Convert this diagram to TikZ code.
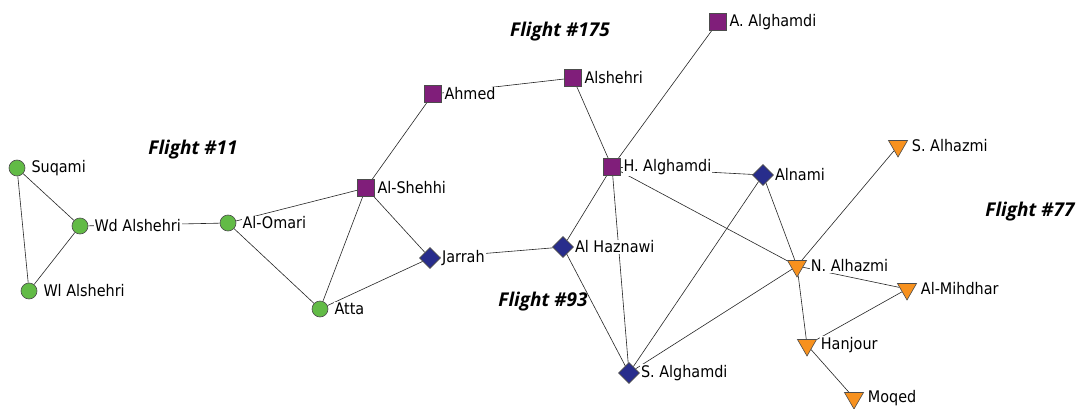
\documentclass[tikz,border=0pt]{standalone}
\usepackage{fontspec}
\setmainfont{DejaVu Sans}[FakeStretch=0.9]
\newfontfamily\flightfont{Open Sans}
\usetikzlibrary{shapes.geometric,backgrounds}
\definecolor{cgreen}{RGB}{98,187,70}
\definecolor{cpurple}{RGB}{128,30,122}
\definecolor{cnavy}{RGB}{40,45,140}
\definecolor{corange}{RGB}{247,145,30}
\begin{document}
\begin{tikzpicture}[x=1pt,y=-1pt,
 base/.style={draw=black!70,line width=0.6pt,inner sep=0pt},
 circ/.style={base,circle,fill=cgreen,minimum size=16pt},
 sq/.style={base,rectangle,fill=cpurple,minimum size=17pt},
 dia/.style={base,diamond,fill=cnavy,minimum size=21pt},
 tri/.style={base,regular polygon,regular polygon sides=3,shape border rotate=180,fill=corange,minimum size=22pt},
 lab/.style={fill=white,inner sep=1pt,font=\fontsize{16}{16}\selectfont},
 cl/.style={lab,xshift=5pt},
 sl/.style={lab,xshift=1.5pt},
 dl/.style={lab},
 tl/.style={lab,xshift=6pt},
 edge/.style={draw=black!85,line width=0.6pt},
 flight/.style={font=\flightfont\bfseries\itshape\fontsize{19}{19}\selectfont}
]
\useasboundingbox (0,0) rectangle (1083,409);
% Flight #11
\node[circ,label={[cl]0:Suqami}] (suqami) at (17,168) {};
\node[circ,label={[cl]0:Wd Alshehri}] (wd) at (80,226) {};
\node[circ,label={[cl]0:Wl Alshehri}] (wl) at (29,291) {};
\node[circ,label={[cl]0:Al-Omari}] (omari) at (228,223) {};
\node[circ,label={[cl]0:Atta}] (atta) at (320,309) {};
\node[sq,label={[sl]0:Al-Shehhi}] (shehhi) at (366,188) {};
% Flight #175
\node[sq,label={[sl]0:Ahmed}] (ahmed) at (433,94) {};
\node[sq,label={[sl]0:Alshehri}] (alshehri) at (573,78) {};
\node[sq,label={[sl]0:A. Alghamdi}] (aalg) at (718,22) {};
\node[sq,label={[sl]0:H. Alghamdi}] (halg) at (612,167) {};
% Flight #93
\node[dia,label={[dl]0:Jarrah}] (jarrah) at (430,258) {};
\node[dia,label={[dl]0:Al Haznawi}] (haznawi) at (563,247) {};
\node[dia,label={[dl]0:Alnami}] (alnami) at (763,175) {};
\node[dia,label={[dl]0:S. Alghamdi}] (salg) at (629,373) {};
% Flight #77
\node[tri,label={[tl]0:S. Alhazmi}] (salh) at (898,146) {};
\node[tri,label={[tl]0:N. Alhazmi}] (nalh) at (797,266) {};
\node[tri,label={[tl]0:Al-Mihdhar}] (mihdhar) at (907,289) {};
\node[tri,label={[tl]0:Hanjour}] (hanjour) at (807,345) {};
\node[tri,label={[tl]0:Moqed}] (moqed) at (854,398) {};
% flight labels
\node[flight] (f11) at (193,150) {Flight \#11};
\node[flight] (f175) at (560,32) {Flight \#175};
\node[flight] (f93) at (543,302) {Flight \#93};
\node[flight] (f77) at (1030,212) {Flight \#77};
\begin{pgfonlayer}{background}
\fill[white] (0,0) rectangle (1083,409);
\draw[edge] (suqami) -- (wd);
\draw[edge] (suqami) -- (wl);
\draw[edge] (wd) -- (wl);
\draw[edge] (wd) -- (omari);
\draw[edge] (omari) -- (shehhi);
\draw[edge] (omari) -- (atta);
\draw[edge] (atta) -- (shehhi);
\draw[edge] (atta) -- (jarrah);
\draw[edge] (shehhi) -- (jarrah);
\draw[edge] (shehhi) -- (ahmed);
\draw[edge] (ahmed) -- (alshehri);
\draw[edge] (alshehri) -- (halg);
\draw[edge] (aalg) -- (halg);
\draw[edge] (halg) -- (alnami);
\draw[edge] (halg) -- (haznawi);
\draw[edge] (halg) -- (salg);
\draw[edge] (halg) -- (nalh);
\draw[edge] (jarrah) -- (haznawi);
\draw[edge] (haznawi) -- (salg);
\draw[edge] (alnami) -- (salg);
\draw[edge] (alnami) -- (nalh);
\draw[edge] (salg) -- (nalh);
\draw[edge] (salh) -- (nalh);
\draw[edge] (nalh) -- (mihdhar);
\draw[edge] (nalh) -- (hanjour);
\draw[edge] (hanjour) -- (mihdhar);
\draw[edge] (hanjour) -- (moqed);
\end{pgfonlayer}
\end{tikzpicture}
\end{document}
